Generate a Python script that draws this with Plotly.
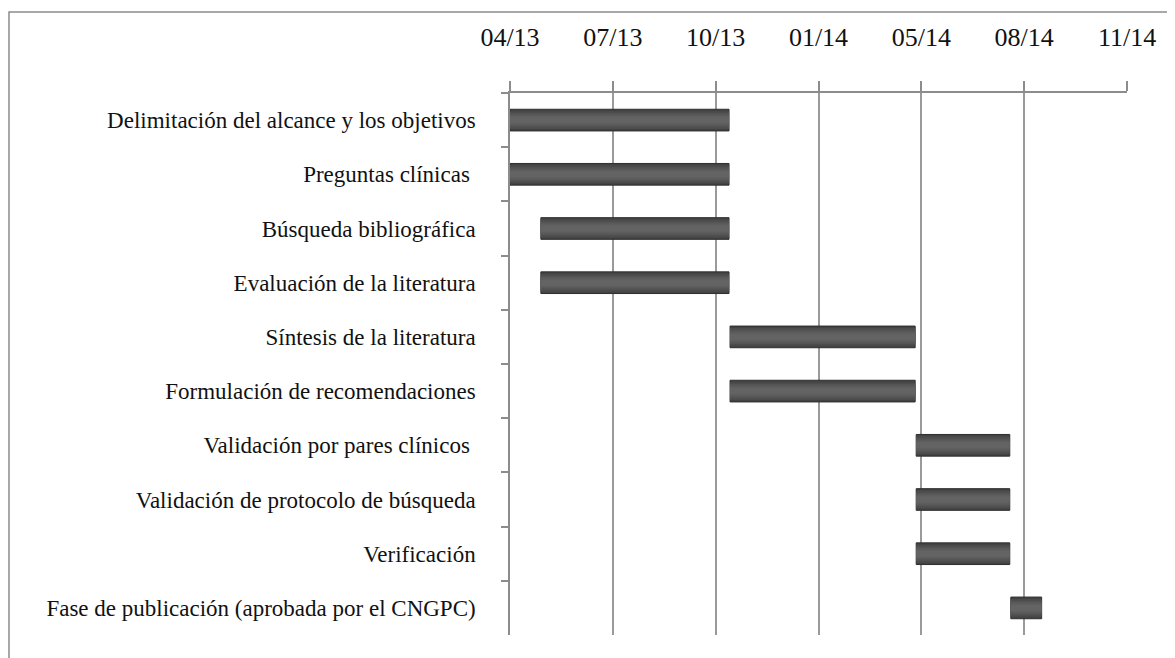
import plotly.graph_objects as go
import pandas as pd

tasks = [
    "Delimitación del alcance y los objetivos",
    "Preguntas clínicas\u00a0",
    "Búsqueda bibliográfica",
    "Evaluación de la literatura",
    "Síntesis de la literatura",
    "Formulación de recomendaciones",
    "Validación por pares clínicos\u00a0",
    "Validación de protocolo de búsqueda",
    "Verificación",
    "Fase de publicación (aprobada por el CNGPC)",
]
start_dates = [
    "2013-04-01", "2013-04-01", "2013-05-01", "2013-05-01",
    "2013-11-01", "2013-11-01", "2014-05-01", "2014-05-01",
    "2014-05-01", "2014-08-01",
]
end_dates = [
    "2013-10-31", "2013-10-31", "2013-10-31", "2013-10-31",
    "2014-04-30", "2014-04-30", "2014-07-31", "2014-07-31",
    "2014-07-31", "2014-08-31",
]
axis_start = "2013-04-01"
axis_end = "2014-11-22"
tick_step_days = 100

s = pd.to_datetime(start_dates)
e = pd.to_datetime(end_dates)
durations_ms = [(b - a).total_seconds() * 1000 for a, b in zip(s, e)]

W, H = 1167, 650
ml, mr, mt, mb = 502, 48, 85, 23

fig = go.Figure()
# layered fills (dark edge -> lighter core) to suggest the shaded bars
shade_layers = [
    (0.40, "#424242", dict(color="#2f2f2f", width=1)),
    (0.33, "#4c4c4c", dict(width=0)),
    (0.26, "#555555", dict(width=0)),
    (0.19, "#5d5d5d", dict(width=0)),
    (0.12, "#636363", dict(width=0)),
]
for w, c, ln in shade_layers:
    fig.add_trace(go.Bar(
        y=tasks,
        x=durations_ms,
        base=start_dates,
        orientation="h",
        width=w,
        marker=dict(color=c, line=ln),
        hoverinfo="skip",
    ))

font_family = "Liberation Serif, DejaVu Serif, serif"

fig.update_layout(
    width=W, height=H,
    barmode="overlay",
    margin=dict(l=ml, r=mr, t=mt, b=mb),
    paper_bgcolor="white",
    plot_bgcolor="white",
    showlegend=False,
    font=dict(family=font_family, size=23, color="#111111"),
    xaxis=dict(
        type="date",
        side="top",
        range=[axis_start, axis_end],
        tick0=axis_start,
        dtick=tick_step_days * 86400000,
        tickformat="%m/%y",
        showgrid=True,
        gridcolor="#9a9a9a",
        gridwidth=1.5,
        showline=True,
        linecolor="#8c8c8c",
        linewidth=1.5,
        ticks="outside",
        ticklen=10,
        tickcolor="#8c8c8c",
        tickwidth=1.5,
        ticklabelstandoff=25,
        zeroline=False,
        tickfont=dict(family=font_family, size=26, color="#111111"),
    ),
    yaxis=dict(
        type="category",
        categoryorder="array",
        categoryarray=tasks,
        autorange="reversed",
        showgrid=False,
        showline=True,
        linecolor="#8c8c8c",
        linewidth=1.5,
        ticks="outside",
        tickson="boundaries",
        ticklen=7,
        tickcolor="#8c8c8c",
        tickwidth=1.5,
        ticklabelstandoff=28,
        zeroline=False,
        tickfont=dict(family=font_family, size=23, color="#111111"),
    ),
)

pw = W - ml - mr
ph = H - mt - mb
fig.add_shape(
    type="rect", xref="paper", yref="paper",
    x0=(1 - ml) / pw, x1=(W + 10 - ml) / pw,
    y0=(H - mb - (H + 10)) / ph, y1=(H - mb - 4) / ph,
    line=dict(color="#8c8c8c", width=1.5),
    fillcolor="rgba(0,0,0,0)",
    layer="below",
)

fig.write_html("out.html")
